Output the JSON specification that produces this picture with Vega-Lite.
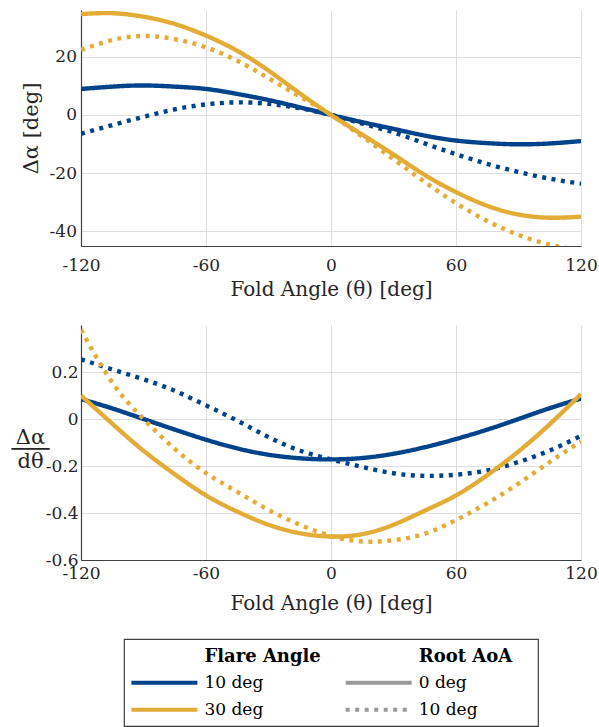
{
  "$schema": "https://vega.github.io/schema/vega-lite/v6.json",
  "autosize": {"type": "pad"},
  "padding": {"left": 11, "top": 10, "right": 0, "bottom": 0},
  "background": "white",
  "config": {
    "view": {"stroke": null},
    "font": "DejaVu Serif",
    "axis": {
      "labelFont": "DejaVu Serif", "titleFont": "DejaVu Serif",
      "labelFontSize": 17, "titleFontSize": 20, "titleFontWeight": "normal",
      "labelColor": "#262626", "titleColor": "#262626",
      "gridColor": "#dedede", "gridWidth": 1,
      "domainColor": "#404040", "domainWidth": 1.2,
      "ticks": false, "labelFlush": false,
      "labelExpr": "replace(format(datum.value, '~g'), '\u2212', '-')"
    },
    "axisY": {"labelPadding": 4.5},
    "legend": {
      "labelFont": "DejaVu Serif", "titleFont": "DejaVu Serif",
      "labelFontSize": 17, "titleFontSize": 18, "titleFontWeight": "bold",
      "labelColor": "#000000", "titleColor": "#000000",
      "padding": 0, "symbolType": "stroke", "symbolSize": 4356,
      "symbolStrokeWidth": 4, "clipHeight": 25, "rowPadding": 2,
      "titlePadding": 4.5, "labelOffset": 5, "orient": "none"
    }
  },
  "datasets": {
    "d": [
      {"theta": -120, "flare": "10 deg", "aoa": "0 deg", "da": 8.9, "dda": 0.085},
      {"theta": -105, "flare": "10 deg", "aoa": "0 deg", "da": 9.7, "dda": 0.045},
      {"theta": -90, "flare": "10 deg", "aoa": "0 deg", "da": 10.1, "dda": 0.0},
      {"theta": -75, "flare": "10 deg", "aoa": "0 deg", "da": 9.7, "dda": -0.045},
      {"theta": -60, "flare": "10 deg", "aoa": "0 deg", "da": 8.9, "dda": -0.088},
      {"theta": -45, "flare": "10 deg", "aoa": "0 deg", "da": 7.2, "dda": -0.125},
      {"theta": -30, "flare": "10 deg", "aoa": "0 deg", "da": 5.1, "dda": -0.152},
      {"theta": -15, "flare": "10 deg", "aoa": "0 deg", "da": 2.6, "dda": -0.167},
      {"theta": 0, "flare": "10 deg", "aoa": "0 deg", "da": 0, "dda": -0.172},
      {"theta": 15, "flare": "10 deg", "aoa": "0 deg", "da": -2.5, "dda": -0.166},
      {"theta": 30, "flare": "10 deg", "aoa": "0 deg", "da": -4.8, "dda": -0.148},
      {"theta": 45, "flare": "10 deg", "aoa": "0 deg", "da": -7.1, "dda": -0.12},
      {"theta": 60, "flare": "10 deg", "aoa": "0 deg", "da": -8.8, "dda": -0.085},
      {"theta": 75, "flare": "10 deg", "aoa": "0 deg", "da": -9.7, "dda": -0.045},
      {"theta": 90, "flare": "10 deg", "aoa": "0 deg", "da": -10.1, "dda": 0.0},
      {"theta": 105, "flare": "10 deg", "aoa": "0 deg", "da": -9.8, "dda": 0.046},
      {"theta": 120, "flare": "10 deg", "aoa": "0 deg", "da": -9.0, "dda": 0.087},

      {"theta": -120, "flare": "10 deg", "aoa": "10 deg", "da": -6.5, "dda": 0.254},
      {"theta": -105, "flare": "10 deg", "aoa": "10 deg", "da": -3.5, "dda": 0.211},
      {"theta": -90, "flare": "10 deg", "aoa": "10 deg", "da": -0.7, "dda": 0.169},
      {"theta": -75, "flare": "10 deg", "aoa": "10 deg", "da": 1.9, "dda": 0.12},
      {"theta": -60, "flare": "10 deg", "aoa": "10 deg", "da": 3.6, "dda": 0.058},
      {"theta": -45, "flare": "10 deg", "aoa": "10 deg", "da": 4.3, "dda": -0.007},
      {"theta": -30, "flare": "10 deg", "aoa": "10 deg", "da": 3.8, "dda": -0.077},
      {"theta": -15, "flare": "10 deg", "aoa": "10 deg", "da": 2.3, "dda": -0.134},
      {"theta": 0, "flare": "10 deg", "aoa": "10 deg", "da": 0, "dda": -0.172},
      {"theta": 15, "flare": "10 deg", "aoa": "10 deg", "da": -3.0, "dda": -0.204},
      {"theta": 30, "flare": "10 deg", "aoa": "10 deg", "da": -6.0, "dda": -0.231},
      {"theta": 45, "flare": "10 deg", "aoa": "10 deg", "da": -9.8, "dda": -0.242},
      {"theta": 60, "flare": "10 deg", "aoa": "10 deg", "da": -13.5, "dda": -0.237},
      {"theta": 75, "flare": "10 deg", "aoa": "10 deg", "da": -16.8, "dda": -0.219},
      {"theta": 90, "flare": "10 deg", "aoa": "10 deg", "da": -19.6, "dda": -0.183},
      {"theta": 105, "flare": "10 deg", "aoa": "10 deg", "da": -21.9, "dda": -0.134},
      {"theta": 120, "flare": "10 deg", "aoa": "10 deg", "da": -23.6, "dda": -0.072},

      {"theta": -120, "flare": "30 deg", "aoa": "0 deg", "da": 34.6, "dda": 0.10},
      {"theta": -105, "flare": "30 deg", "aoa": "0 deg", "da": 34.9, "dda": -0.02},
      {"theta": -90, "flare": "30 deg", "aoa": "0 deg", "da": 33.7, "dda": -0.135},
      {"theta": -75, "flare": "30 deg", "aoa": "0 deg", "da": 31.2, "dda": -0.235},
      {"theta": -60, "flare": "30 deg", "aoa": "0 deg", "da": 27.2, "dda": -0.325},
      {"theta": -45, "flare": "30 deg", "aoa": "0 deg", "da": 22.0, "dda": -0.394},
      {"theta": -30, "flare": "30 deg", "aoa": "0 deg", "da": 15.2, "dda": -0.45},
      {"theta": -15, "flare": "30 deg", "aoa": "0 deg", "da": 7.4, "dda": -0.486},
      {"theta": 0, "flare": "30 deg", "aoa": "0 deg", "da": 0, "dda": -0.50},
      {"theta": 15, "flare": "30 deg", "aoa": "0 deg", "da": -6.8, "dda": -0.49},
      {"theta": 30, "flare": "30 deg", "aoa": "0 deg", "da": -13.6, "dda": -0.45},
      {"theta": 45, "flare": "30 deg", "aoa": "0 deg", "da": -20.6, "dda": -0.39},
      {"theta": 60, "flare": "30 deg", "aoa": "0 deg", "da": -26.5, "dda": -0.325},
      {"theta": 75, "flare": "30 deg", "aoa": "0 deg", "da": -31.2, "dda": -0.239},
      {"theta": 90, "flare": "30 deg", "aoa": "0 deg", "da": -34.2, "dda": -0.138},
      {"theta": 105, "flare": "30 deg", "aoa": "0 deg", "da": -35.3, "dda": -0.022},
      {"theta": 120, "flare": "30 deg", "aoa": "0 deg", "da": -34.9, "dda": 0.106},

      {"theta": -120, "flare": "30 deg", "aoa": "10 deg", "da": 22.3, "dda": 0.38},
      {"theta": -105, "flare": "30 deg", "aoa": "10 deg", "da": 25.7, "dda": 0.155},
      {"theta": -90, "flare": "30 deg", "aoa": "10 deg", "da": 27.1, "dda": 0.0},
      {"theta": -75, "flare": "30 deg", "aoa": "10 deg", "da": 26.0, "dda": -0.127},
      {"theta": -60, "flare": "30 deg", "aoa": "10 deg", "da": 23.2, "dda": -0.23},
      {"theta": -45, "flare": "30 deg", "aoa": "10 deg", "da": 18.6, "dda": -0.31},
      {"theta": -30, "flare": "30 deg", "aoa": "10 deg", "da": 12.6, "dda": -0.387},
      {"theta": -15, "flare": "30 deg", "aoa": "10 deg", "da": 6.3, "dda": -0.45},
      {"theta": 0, "flare": "30 deg", "aoa": "10 deg", "da": 0, "dda": -0.498},
      {"theta": 15, "flare": "30 deg", "aoa": "10 deg", "da": -7.4, "dda": -0.521},
      {"theta": 30, "flare": "30 deg", "aoa": "10 deg", "da": -15.2, "dda": -0.516},
      {"theta": 45, "flare": "30 deg", "aoa": "10 deg", "da": -23.0, "dda": -0.488},
      {"theta": 60, "flare": "30 deg", "aoa": "10 deg", "da": -30.3, "dda": -0.43},
      {"theta": 75, "flare": "30 deg", "aoa": "10 deg", "da": -36.4, "dda": -0.358},
      {"theta": 90, "flare": "30 deg", "aoa": "10 deg", "da": -41.2, "dda": -0.275},
      {"theta": 105, "flare": "30 deg", "aoa": "10 deg", "da": -44.5, "dda": -0.183},
      {"theta": 120, "flare": "30 deg", "aoa": "10 deg", "da": -46.5, "dda": -0.096}
    ]
  },
  "data": {"name": "d"},
  "bounds": "flush",
  "center": true,
  "spacing": 79,
  "resolve": {
    "scale": {"x": "independent", "y": "independent", "color": "independent", "strokeDash": "independent"},
    "legend": {"color": "independent", "strokeDash": "independent"}
  },
  "vconcat": [
    {
      "width": 500, "height": 236,
      "mark": {"type": "line", "strokeWidth": 4.4, "interpolate": "natural", "clip": true},
      "encoding": {
        "x": {"field": "theta", "type": "quantitative",
              "scale": {"domain": [-120, 120], "nice": false, "zero": false},
              "axis": {"values": [-120, -60, 0, 60, 120], "title": "Fold Angle (θ) [deg]",
                       "labelPadding": 11, "titleY": 33, "titleBaseline": "top"}},
        "y": {"field": "da", "type": "quantitative",
              "scale": {"domain": [-45, 36], "nice": false, "zero": false},
              "axis": {"values": [-40, -20, 0, 20], "title": "Δα [deg]", "titleFontSize": 21,
                       "titleX": -50, "titleY": 118, "titleAlign": "center", "titleBaseline": "middle", "titleAngle": -90}},
        "color": {"field": "flare", "type": "nominal",
                  "scale": {"domain": ["10 deg", "30 deg"], "range": ["#00438A", "#E2AC36"]}, "legend": null},
        "strokeDash": {"field": "aoa", "type": "nominal",
                       "scale": {"domain": ["0 deg", "10 deg"], "range": [[1, 0], [4, 5.5]]}, "legend": null}
      }
    },
    {
      "width": 500, "height": 235,
      "mark": {"type": "line", "strokeWidth": 4.4, "interpolate": "natural", "clip": true},
      "encoding": {
        "x": {"field": "theta", "type": "quantitative",
              "scale": {"domain": [-120, 120], "nice": false, "zero": false},
              "axis": {"values": [-120, -60, 0, 60, 120], "title": "Fold Angle (θ) [deg]",
                       "labelPadding": 5, "titleY": 33, "titleBaseline": "top"}},
        "y": {"field": "dda", "type": "quantitative",
              "scale": {"domain": [-0.6, 0.4], "nice": false, "zero": false},
              "axis": {"values": [-0.6, -0.4, -0.2, 0, 0.2], "title": ["Δα", "───", "dθ"], "titleFontSize": 21,
                       "titleX": -51, "titleY": 112, "titleAlign": "center", "titleBaseline": "middle",
                       "titleAngle": 0, "titleLineHeight": 12, "labelPadding": 3}},
        "color": {"field": "flare", "type": "nominal",
                  "scale": {"domain": ["10 deg", "30 deg"], "range": ["#00438A", "#E2AC36"]}, "legend": null},
        "strokeDash": {"field": "aoa", "type": "nominal",
                       "scale": {"domain": ["0 deg", "10 deg"], "range": [[1, 0], [4, 5.5]]}, "legend": null}
      }
    },
    {
      "width": 414, "height": 87,
      "view": {"stroke": "#404040", "strokeWidth": 1.2},
      "transform": [{"filter": "datum.theta > 1000"}],
      "mark": {"type": "line", "strokeWidth": 4},
      "encoding": {
        "x": {"field": "theta", "type": "quantitative", "axis": null},
        "y": {"field": "da", "type": "quantitative", "axis": null},
        "color": {"field": "flare", "type": "nominal",
                  "scale": {"domain": ["10 deg", "30 deg"], "range": ["#00438A", "#E2AC36"]},
                  "legend": {"title": "Flare Angle", "orient": "none", "legendX": 5.4, "legendY": 8.7,
                             "encode": {"title": {"update": {"dx": {"value": 75}}}}}},
        "strokeDash": {"field": "aoa", "type": "nominal",
                       "scale": {"domain": ["0 deg", "10 deg"], "range": [[1, 0], [4, 5.5]]},
                       "legend": {"title": "Root AoA", "orient": "none", "legendX": 219.7, "legendY": 8.7,
                                  "symbolStrokeColor": "#999999",
                                  "encode": {
                                    "title": {"update": {"dx": {"value": 75}}},
                                    "symbols": {"update": {"strokeDash": {"signal": "datum.value === '10 deg' ? [3.4, 3.3] : [1, 0]"}}}
                                  }}}
      }
    }
  ]
}
